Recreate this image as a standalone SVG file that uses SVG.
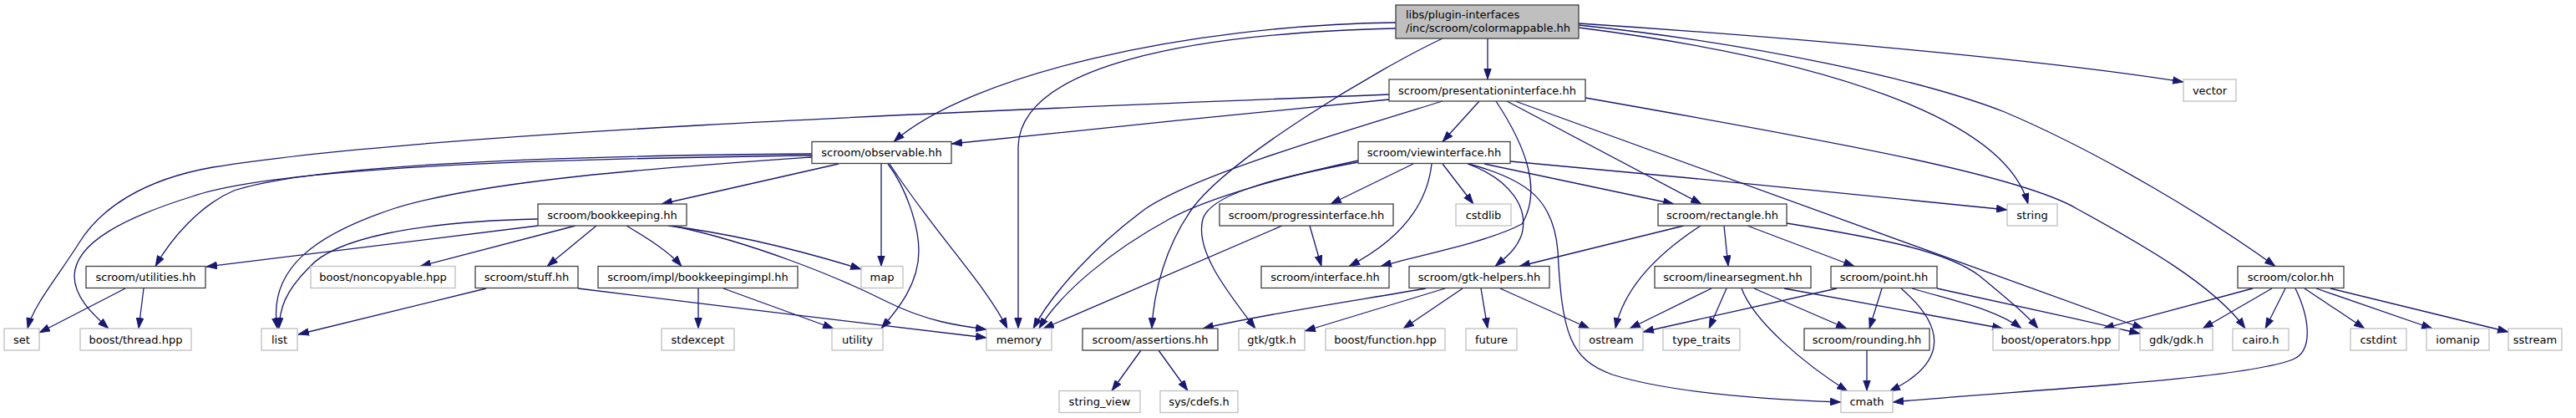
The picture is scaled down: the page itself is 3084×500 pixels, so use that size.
<svg xmlns="http://www.w3.org/2000/svg" width="3084" height="500" viewBox="0 0 3084 500">
<style>
.n rect{fill:#fff;stroke:#404040;stroke-width:1.3}
.g rect{fill:#fff;stroke:#bfbfbf;stroke-width:1.3}
.r rect{fill:#bfbfbf;stroke:#404040;stroke-width:1.3}
text{font-family:"DejaVu Sans","Liberation Sans",sans-serif;font-size:13px;fill:#000;text-anchor:middle}
.r text{text-anchor:start}
#edges path{fill:none;stroke:#191970;stroke-width:1.3;marker-end:url(#a)}
</style>
<defs>
<marker id="a" markerUnits="userSpaceOnUse" viewBox="0 0 13 9.4" refX="13" refY="4.7" markerWidth="13" markerHeight="9.4" orient="auto">
<path d="M0.5,0.5 L12.5,4.7 L0.5,8.9 z" fill="#191970" stroke="#191970"/>
</marker>
</defs>
<rect width="3084" height="500" fill="#fff"/>
<g id="edges">
<path d="M1781,46 L1781,95"/>
<path d="M1671,27 C1420,30 1160,90 1070,169.5"/>
<path d="M1671,34 C1420,40 1222,80 1219,175 L1219,393"/>
<path d="M1727,46 C1650,82 1470,190 1427,250 C1395,295 1381,350 1379,393"/>
<path d="M1890,33 C2180,70 2400,140 2428,244"/>
<path d="M1890,28 C2150,45 2450,72 2614,98"/>
<path d="M1890,30 C2100,52 2300,95 2400,134 C2520,185 2650,265 2724,318.5"/>
<path d="M1663,119 C1500,135 1300,155 1139,172"/>
<path d="M1663,113 C1100,135 500,160 255,200 C170,215 120,250 95,290 C70,330 40,365 33,393"/>
<path d="M1727,121 C1600,160 1430,210 1371,250 C1310,295 1260,350 1237,393"/>
<path d="M1771,121 L1727,169.5"/>
<path d="M1791,121 C1830,180 1845,230 1822,268 C1780,290 1700,305 1653,318.5"/>
<path d="M1804,121 L2037,244"/>
<path d="M1814,121 L2566,393"/>
<path d="M1898,117 C2200,170 2420,210 2487,250 C2560,290 2650,340 2688,393"/>
<path d="M1626,192 C1520,215 1440,240 1400,262 C1330,300 1270,350 1244,393"/>
<path d="M1626,194 C1540,210 1450,230 1440,262 C1430,300 1470,350 1503,393"/>
<path d="M1692,196 L1593,244"/>
<path d="M1714,196 C1708,250 1670,290 1615,318.5"/>
<path d="M1727,196 L1764,244"/>
<path d="M1757,196 C1810,215 1830,250 1822,280 C1815,300 1800,310 1790,318.5"/>
<path d="M1758,196 C1830,215 1860,240 1865,300 C1870,400 1880,430 1930,448 C2000,470 2120,478 2204,481"/>
<path d="M1777,196 L2004,244"/>
<path d="M1808,193 C2000,210 2250,235 2403,251"/>
<path d="M1004,196 L792,244"/>
<path d="M1055,196 L1055,318.5"/>
<path d="M1063,196 C1085,225 1100,270 1100,300 C1100,340 1075,370 1055,393"/>
<path d="M1065,196 C1120,280 1180,340 1206,393"/>
<path d="M972,184 C700,186 380,195 280,228 C240,245 205,285 186,318.5"/>
<path d="M972,186 C650,190 330,200 230,235 C150,260 90,290 89,330 C89,355 110,375 130,393"/>
<path d="M972,188 C800,200 580,215 470,250 C380,280 320,320 332,393"/>
<path d="M644,262 C500,265 400,285 370,320 C340,350 335,370 334,393"/>
<path d="M644,270 L247,319"/>
<path d="M689,270 L503,318.5"/>
<path d="M714,270 L655,318.5"/>
<path d="M750,270 C775,285 800,300 816,318.5"/>
<path d="M800,270 C880,280 960,300 1031,322"/>
<path d="M805,270 C900,290 1000,330 1060,360 C1110,385 1150,390 1181,394"/>
<path d="M582,345 L357,400"/>
<path d="M692,345 C850,365 1050,388 1181,404"/>
<path d="M836,345 L836,393"/>
<path d="M866,345 L998,393"/>
<path d="M150,345 L47,398"/>
<path d="M172,345 L166,393"/>
<path d="M1535,270 L1249,393"/>
<path d="M1568,270 L1582,318.5"/>
<path d="M2016,270 L1819,318.5"/>
<path d="M2036,270 C1990,300 1945,340 1934,393"/>
<path d="M2064,270 L2069,318.5"/>
<path d="M2092,270 L2220,318.5"/>
<path d="M2139,267 C2250,285 2330,300 2370,330 C2400,355 2425,375 2440,393"/>
<path d="M1707,345 C1620,360 1500,378 1440,393"/>
<path d="M1730,345 L1562,396"/>
<path d="M1751,345 L1680,393"/>
<path d="M1773,345 L1781,393"/>
<path d="M1796,345 L1903,393"/>
<path d="M2049,345 L1951,393"/>
<path d="M2067,345 L2046,393"/>
<path d="M2085,345 C2100,385 2160,435 2212,468"/>
<path d="M2100,345 L2211,393"/>
<path d="M2136,345 L2398,393"/>
<path d="M2199,345 L1967,397"/>
<path d="M2253,345 L2238,393"/>
<path d="M2276,345 C2340,400 2320,440 2262,468"/>
<path d="M2289,345 C2340,360 2390,370 2420,393"/>
<path d="M2319,345 C2380,358 2480,380 2562,399"/>
<path d="M2697,345 L2518,393"/>
<path d="M2720,345 L2637,393"/>
<path d="M2736,345 L2712,393"/>
<path d="M2748,345 C2765,380 2770,420 2745,430 C2680,455 2400,468 2266,481"/>
<path d="M2759,345 L2831,393"/>
<path d="M2773,345 L2912,393"/>
<path d="M2790,345 L3003,397"/>
<path d="M2235,419 L2235,467.5"/>
<path d="M1366,419 L1331,467.5"/>
<path d="M1387,419 L1422,467.5"/>
</g>
<g id="colormappable" class="r"><rect x="1671" y="6" width="219" height="40"/><text x="1683" y="21.5">libs/plugin-interfaces</text><text x="1683" y="37.5">/inc/scroom/colormappable.hh</text></g>
<g id="presentationinterface" class="n"><rect x="1663" y="95" width="235" height="26"/><text x="1780.5" y="112.5">scroom/presentationinterface.hh</text></g>
<g id="vector" class="g"><rect x="2614" y="95" width="63" height="26"/><text x="2645.5" y="112.5">vector</text></g>
<g id="observable" class="n"><rect x="972" y="169.5" width="167" height="26"/><text x="1055.5" y="187">scroom/observable.hh</text></g>
<g id="viewinterface" class="n"><rect x="1626" y="169.5" width="182" height="26"/><text x="1717" y="187">scroom/viewinterface.hh</text></g>
<g id="bookkeeping" class="n"><rect x="644" y="244" width="178" height="26"/><text x="733" y="261.5">scroom/bookkeeping.hh</text></g>
<g id="progressinterface" class="n"><rect x="1460" y="244" width="208" height="26"/><text x="1564" y="261.5">scroom/progressinterface.hh</text></g>
<g id="cstdlib" class="g"><rect x="1743" y="244" width="66" height="26"/><text x="1776" y="261.5">cstdlib</text></g>
<g id="rectangle" class="n"><rect x="1985" y="244" width="154" height="26"/><text x="2062" y="261.5">scroom/rectangle.hh</text></g>
<g id="string" class="g"><rect x="2403" y="244" width="60" height="26"/><text x="2433" y="261.5">string</text></g>
<g id="utilities" class="n"><rect x="103" y="318.5" width="143" height="26"/><text x="174.5" y="336">scroom/utilities.hh</text></g>
<g id="noncopyable" class="g"><rect x="372" y="318.5" width="173" height="26"/><text x="458.5" y="336">boost/noncopyable.hpp</text></g>
<g id="stuff" class="n"><rect x="569" y="318.5" width="123" height="26"/><text x="630.5" y="336">scroom/stuff.hh</text></g>
<g id="bookkeepingimpl" class="n"><rect x="716" y="318.5" width="239" height="26"/><text x="835.5" y="336">scroom/impl/bookkeepingimpl.hh</text></g>
<g id="map" class="g"><rect x="1031" y="318.5" width="50" height="26"/><text x="1056" y="336">map</text></g>
<g id="interface" class="n"><rect x="1510" y="318.5" width="153" height="26"/><text x="1586.5" y="336">scroom/interface.hh</text></g>
<g id="gtkhelpers" class="n"><rect x="1687" y="318.5" width="168" height="26"/><text x="1771" y="336">scroom/gtk-helpers.hh</text></g>
<g id="linearsegment" class="n"><rect x="1981" y="318.5" width="187" height="26"/><text x="2074.5" y="336">scroom/linearsegment.hh</text></g>
<g id="point" class="n"><rect x="2192" y="318.5" width="127" height="26"/><text x="2255.5" y="336">scroom/point.hh</text></g>
<g id="color" class="n"><rect x="2679" y="318.5" width="127" height="26"/><text x="2742.5" y="336">scroom/color.hh</text></g>
<g id="set" class="g"><rect x="5" y="393" width="42" height="26"/><text x="26" y="410.5">set</text></g>
<g id="thread" class="g"><rect x="96" y="393" width="133" height="26"/><text x="162.5" y="410.5">boost/thread.hpp</text></g>
<g id="list" class="g"><rect x="313" y="393" width="43" height="26"/><text x="334.5" y="410.5">list</text></g>
<g id="stdexcept" class="g"><rect x="792" y="393" width="87" height="26"/><text x="835.5" y="410.5">stdexcept</text></g>
<g id="utility" class="g"><rect x="996" y="393" width="61" height="26"/><text x="1026.5" y="410.5">utility</text></g>
<g id="memory" class="g"><rect x="1181" y="393" width="78" height="26"/><text x="1220" y="410.5">memory</text></g>
<g id="assertions" class="n"><rect x="1296" y="393" width="162" height="26"/><text x="1377" y="410.5">scroom/assertions.hh</text></g>
<g id="gtkh" class="g"><rect x="1483" y="393" width="79" height="26"/><text x="1522.5" y="410.5">gtk/gtk.h</text></g>
<g id="function" class="g"><rect x="1587" y="393" width="143" height="26"/><text x="1658.5" y="410.5">boost/function.hpp</text></g>
<g id="future" class="g"><rect x="1755" y="393" width="61" height="26"/><text x="1785.5" y="410.5">future</text></g>
<g id="ostream" class="g"><rect x="1891" y="393" width="76" height="26"/><text x="1929" y="410.5">ostream</text></g>
<g id="type_traits" class="g"><rect x="1991" y="393" width="92" height="26"/><text x="2037" y="410.5">type_traits</text></g>
<g id="rounding" class="n"><rect x="2160" y="393" width="150" height="26"/><text x="2235" y="410.5">scroom/rounding.hh</text></g>
<g id="operators" class="g"><rect x="2386" y="393" width="151" height="26"/><text x="2461.5" y="410.5">boost/operators.hpp</text></g>
<g id="gdk" class="g"><rect x="2562" y="393" width="87" height="26"/><text x="2605.5" y="410.5">gdk/gdk.h</text></g>
<g id="cairo" class="g"><rect x="2673" y="393" width="67" height="26"/><text x="2706.5" y="410.5">cairo.h</text></g>
<g id="cstdint" class="g"><rect x="2814" y="393" width="67" height="26"/><text x="2847.5" y="410.5">cstdint</text></g>
<g id="iomanip" class="g"><rect x="2905" y="393" width="75" height="26"/><text x="2942.5" y="410.5">iomanip</text></g>
<g id="sstream" class="g"><rect x="3003" y="393" width="64" height="26"/><text x="3035" y="410.5">sstream</text></g>
<g id="string_view" class="g"><rect x="1268" y="467.5" width="97" height="26"/><text x="1316.5" y="485">string_view</text></g>
<g id="cdefs" class="g"><rect x="1389" y="467.5" width="93" height="26"/><text x="1435.5" y="485">sys/cdefs.h</text></g>
<g id="cmath" class="g"><rect x="2204" y="467.5" width="62" height="26"/><text x="2235" y="485">cmath</text></g>
</svg>
